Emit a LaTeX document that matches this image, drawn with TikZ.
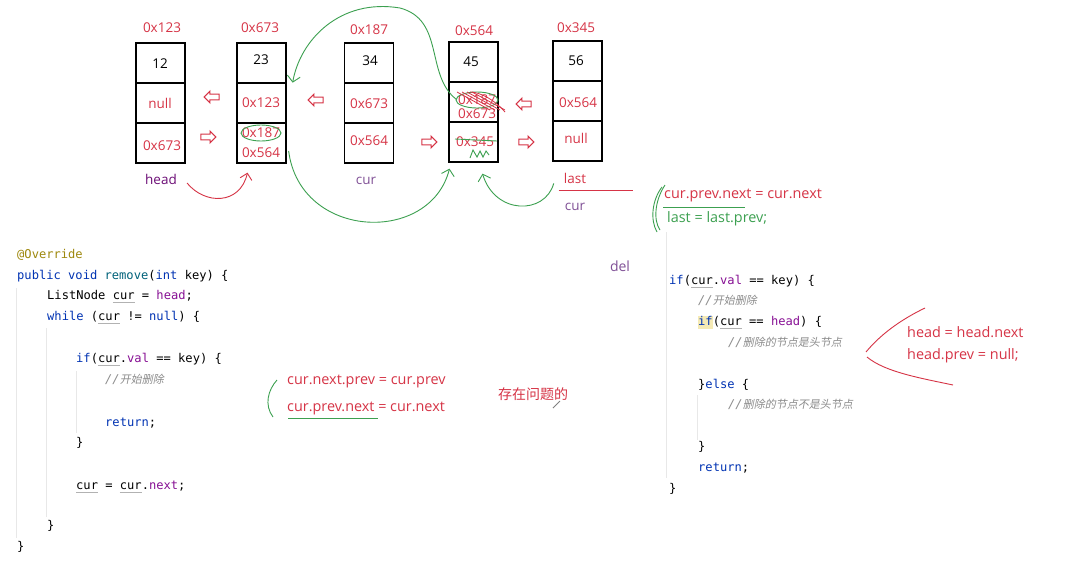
\documentclass[tikz,border=0pt]{standalone}
\usepackage{fontspec}
\setmainfont{Open Sans}
\setmonofont{DejaVu Sans Mono}
\newfontfamily\cjk{Noto Sans CJK SC}
\newfontfamily\cjkit{Noto Sans CJK SC}[FakeSlant=0.2]
\usetikzlibrary{shapes.arrows,arrows.meta,calc}
\definecolor{ared}{RGB}{214,52,70}
\definecolor{agreen}{RGB}{60,160,80}
\definecolor{apur}{RGB}{128,80,150}
\definecolor{ckw}{RGB}{0,51,179}
\definecolor{cfn}{RGB}{0,98,122}
\definecolor{cpu}{RGB}{135,16,148}
\definecolor{can}{RGB}{158,136,13}
\definecolor{ccm}{RGB}{140,140,140}
\definecolor{hl}{RGB}{245,234,181}
\newcommand\kw[1]{\textcolor{ckw}{#1}}
\newcommand\fn[1]{\textcolor{cfn}{#1}}
\newcommand\pu[1]{\textcolor{cpu}{#1}}
\newcommand\cu{\rlap{\textcolor{gray!60}{\rule[-2.5pt]{1.806em}{0.5pt}}}cur}
\newcommand\cmt[1]{{\color{ccm}{\itshape //}{\cjkit\fontsize{11}{13}\selectfont #1}}}
\newcommand\hlif{\rlap{\textcolor{hl}{\rule[-3.5pt]{1.204em}{13pt}}}\kw{if}}
\begin{document}
\begin{tikzpicture}[x=1pt,y=-1pt,
  cell/.style={draw=black, line width=1.3pt, minimum width=49pt, minimum height=40pt, inner sep=0},
  hexr/.style={text=ared, font=\fontsize{13.5}{15}\selectfont, inner sep=0},
  valb/.style={text=black, font=\fontsize{13.5}{15}\selectfont, inner sep=0},
  lab/.style={text=apur, font=\fontsize{13.5}{15}\selectfont, inner sep=0},
  arr/.style={single arrow, draw=ared, line width=1.1pt, minimum height=15pt, inner xsep=0pt, inner ysep=2.3pt, single arrow head extend=3pt},
  code/.style={anchor=mid west, inner sep=0, font=\ttfamily\fontsize{12.1}{14}\selectfont},
  anno/.style={anchor=mid west, inner sep=0, text=ared, font=\fontsize{14.4}{16}\selectfont},
  gline/.style={draw=agreen, line width=0.9pt},
  garrow/.style={gline, -{Straight Barb[length=6pt,width=13pt]}},
  guide/.style={draw=gray!18, line width=0.8pt}]
\useasboundingbox (0,0) rectangle (1077,571);
\fill[white] (0,0) rectangle (1077,571);

% ---- boxes ----
\foreach \n/\x/\t in {1/160.5/43, 2/261.5/43, 3/369/43, 4/473.5/42, 5/577.5/41}{
  \node[cell] (b\n a) at (\x,\t+20) {};
  \node[cell] (b\n b) at (\x,\t+60) {};
  \node[cell] (b\n c) at (\x,\t+100) {};
}
% address labels
\node[hexr] (ad1) at (162,28) {0x123};
\node[hexr] (ad2) at (260,28) {0x673};
\node[hexr] (ad3) at (369,30) {0x187};
\node[hexr] (ad4) at (474,31) {0x564};
\node[hexr] (ad5) at (576,28) {0x345};
% contents
\node[valb] (v1a) at (160,64) {12};
\node[hexr] (v1b) at (160,103) {null};
\node[hexr] (v1c) at (162,146) {0x673};
\node[valb] (v2a) at (261,60) {23};
\node[hexr] (v2b) at (261,103) {0x123};
\node[hexr] (v2c) at (261,133) {0x187};
\node[hexr] (v2d) at (261,153) {0x564};
\node[valb] (v3a) at (370,61) {34};
\node[hexr] (v3b) at (369,104) {0x673};
\node[hexr] (v3c) at (369,141) {0x564};
\node[valb] (v4a) at (471,62) {45};
\node[hexr] (v4b) at (477,100) {0x187};
\node[hexr] (v4c) at (477,114) {0x673};
\node[hexr] (v4d) at (475,142) {0x345};
\node[valb] (v5a) at (576,61) {56};
\node[hexr] (v5b) at (578,103) {0x564};
\node[hexr] (v5c) at (576,138) {null};

% hollow arrows
\node[arr, shape border rotate=180] (p1) at (213,97) {};
\node[arr] (p2) at (207,137) {};
\node[arr, shape border rotate=180] (p3) at (317,100) {};
\node[arr] (p4) at (428,142) {};
\node[arr, shape border rotate=180] (p5) at (525,104) {};
\node[arr] (p6) at (525,142) {};

% labels under boxes
\node[lab, text=cpu!80!black] (lhead) at (161,179) {head};
\node[lab] (lcur) at (366,181) {cur};
\node[lab, text=ared] (llast) at (575,178) {last};
\node[lab] (lcur2) at (575,207) {cur};
\draw[ared, line width=1pt] ($(llast.south west)+(-5,7)$) -- ($(llast.south east)+(47,7)$);

% red curve head -> box2
\draw[ared, line width=0.9pt, -{Straight Barb[length=6pt,width=12pt]}]
  ($(lhead.east)+(10,4)$) .. controls (205,205) and (240,205) .. ($(b2c.south)+(-14,9)$);

% green ellipse and scribbles
\draw[gline] (v2c) ellipse (20pt and 8pt);
\draw[gline] (v4b) ellipse (21pt and 8pt);
\foreach \d in {0,5,10,15}{
  \draw[ared, line width=0.8pt] (457+\d,92) -- (490+\d,110);
}
\draw[ared, line width=0.8pt] (470,92) .. controls (480,92) and (495,100) .. (505,112);
\draw[gline] (455,139) -- (497,141);
\draw[gline] (470,158) -- (473,150) -- (477,157) -- (480,151) -- (483,157) -- (486,151) -- (489,155);

% green curves
\draw[garrow] ($(b2c.east)+(2,8)$) .. controls (300,240) and (430,245) .. ($(b4c.south)+(-24,6)$);
\draw[garrow] ($(b4b.north west)+(8,18)$) .. controls (425,75) and (445,20) .. (400,8)
   .. controls (340,-2) and (300,40) .. ($(b2a.south east)+(6,-1)$);
\draw[garrow] ($(llast.south west)+(-10,0)$) .. controls (545,215) and (495,215) .. ($(b4c.south)+(9,11)$);

% ---- right annotations ----
\node[anno] (r1) at (664,196) {cur.prev.next = cur.next};
\draw[gline] (663,207) -- (745,207);
\node[anno, text=agreen] (r2) at (667,220) {last = last.prev;};
\draw[gline] (662,187) .. controls (652,200) and (650,220) .. (657,232);
\draw[gline] (665,185) .. controls (655,200) and (653,220) .. (660,230);

\node[lab, font=\fontsize{14}{16}\selectfont] (ldel) at (620,266) {del};

% ---- middle annotations ----
\draw[gline] (277,380) .. controls (268,390) and (264,405) .. (273,417);
\node[anno] (m1) at (287,382) {cur.next.prev = cur.prev};
\node[anno] (m2) at (287,409) {cur.prev.next = cur.next};
\draw[gline] (288,418) -- (378,418);
\node[anno, font=\cjk\fontsize{14}{16}\selectfont] (m3) at (498,397) {存在问题的};
\draw[gray, line width=1pt] (553,408) -- (560,401);

% ---- head annotations ----
\draw[ared, line width=0.9pt] (925,308) .. controls (900,320) and (880,335) .. (866,352);
\draw[ared, line width=0.9pt] (867,357) .. controls (885,372) and (920,378) .. (953,385);
\node[anno] (h1) at (907,335) {head = head.next};
\node[anno] (h2) at (907,357) {head.prev = null;};

% ---- left code ----
\draw[guide] (16,288) -- (16,538);
\draw[guide] (46,328) -- (46,517);
\draw[guide] (76,371) -- (76,433);
\node[code, text=can] (c1) at (17,256) {@Override};
\node[code] (c2) at (17,277) {\kw{public} \kw{void} \fn{remove}(\kw{int} key) \{};
\node[code] (c3) at (47,297) {ListNode \cu{} = \pu{head};};
\node[code] (c4) at (47,318) {\kw{while} (\cu{} != \kw{null}) \{};
\node[code] (c5) at (76,360) {\kw{if}(\cu.\pu{val} == key) \{};
\node[code] (c6) at (105,381) {\cmt{开始删除}};
\node[code] (c7) at (105,424) {\kw{return};};
\node[code] (c8) at (76,444) {\}};
\node[code] (c9) at (76,487) {\cu{} = \cu.\pu{next};};
\node[code] (c10) at (47,527) {\}};
\node[code] (c11) at (17,548) {\}};

% ---- right code ----
\draw[guide] (666,232) -- (666,478);
\draw[guide] (697,395) -- (697,440);
\node[code] (d1) at (669,282) {\kw{if}(\cu.\pu{val} == key) \{};
\node[code] (d2) at (698,302) {\cmt{开始删除}};
\node[code] (d3) at (698,323) {\hlif(\cu{} == \pu{head}) \{};
\node[code] (d4) at (728,344) {\cmt{删除的节点是头节点}};
\node[code] (d5) at (698,386) {\}\kw{else} \{};
\node[code] (d6) at (728,406) {\cmt{删除的节点不是头节点}};
\node[code] (d7) at (698,448) {\}};
\node[code] (d8) at (698,469) {\kw{return};};
\node[code] (d9) at (669,490) {\}};
\end{tikzpicture}
\end{document}
